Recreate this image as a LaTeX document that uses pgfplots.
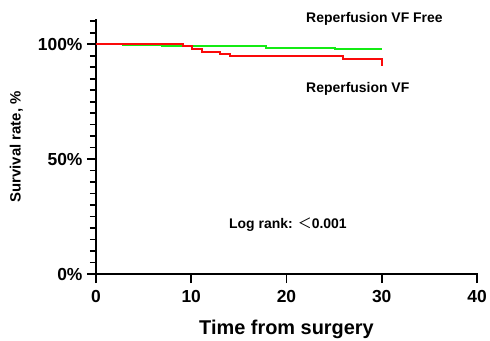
\documentclass[border=0pt]{standalone}
\usepackage{pgfplots}
\pgfplotsset{compat=1.18}
\usepackage{fontspec}
\setmainfont{Liberation Sans}
\newfontfamily\cjk{Noto Sans CJK SC}
\definecolor{kmgreen}{RGB}{20,235,20}
\definecolor{kmred}{RGB}{250,10,10}
\begin{document}
\begin{tikzpicture}
\begin{axis}[
  name=ax, at={(0,0)}, anchor=south west,
  scale only axis, width=381bp, height=254bp,
  xmin=0, xmax=40, ymin=0, ymax=110.5,
  axis x line*=bottom, axis y line*=left,
  axis line style={line width=2.2bp, line cap=rect},
  xtick={0,10,20,30,40},
  ytick={0,50,100},
  yticklabels={0\%,50\%,100\%},
  minor ytick={5,10,...,110},
  tick style={black, line width=1.8bp},
  tick align=outside,
  major tick length=9bp, minor tick length=6bp,
  tick label style={font=\bfseries\fontsize{17.5}{19}\selectfont},
  /pgf/number format/assume math mode=true,
  xticklabel style={yshift=-4bp},
  yticklabel style={xshift=-1bp},
  xlabel={Time from surgery},
  xlabel style={font=\bfseries\fontsize{20}{22}\selectfont, yshift=-10bp},
  ylabel={Survival rate, \%},
  ylabel style={font=\bfseries\fontsize{15}{17}\selectfont, yshift=8bp},
  clip=false,
]
\addplot[const plot, kmgreen, line width=2bp] coordinates {
  (0,100) (2.8,99.7) (6.9,99.3) (17.9,98.4) (25.1,98.1) (30,98.1)
};
\addplot[const plot, kmred, line width=2bp] coordinates {
  (0,100) (9.1,99.3) (10.1,97.8) (11.1,96.6) (13,95.6) (14.1,94.8) (25.9,93.7) (30,90.6)
};
\node[anchor=west, font=\bfseries\fontsize{14}{15}\selectfont, inner sep=0pt] at (axis cs:22.05,110.9) {Reperfusion VF Free};
\node[anchor=west, font=\bfseries\fontsize{14}{15}\selectfont, inner sep=0pt] at (axis cs:22.05,80.4) {Reperfusion VF};
\node[anchor=west, font=\bfseries\fontsize{14}{15}\selectfont, inner sep=0pt] at (axis cs:13.96,21.3) {Log rank: {\cjk\mdseries ＜}0.001};
\end{axis}
\pgfresetboundingbox
\useasboundingbox (-96bp,-67bp) rectangle (394bp,274bp);
\end{tikzpicture}
\end{document}
